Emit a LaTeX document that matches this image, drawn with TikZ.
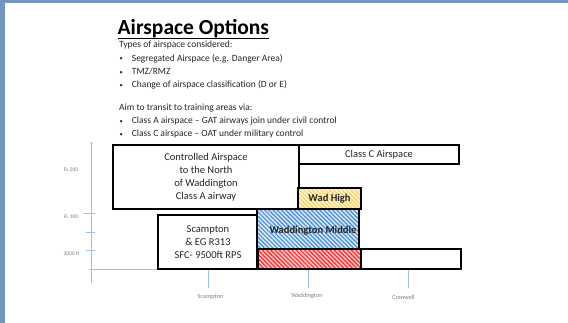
\documentclass[tikz,border=0pt]{standalone}
\usepackage{fontspec}
\setmainfont{Carlito}
\usetikzlibrary{patterns.meta,arrows.meta}

\definecolor{frameblue}{HTML}{7396BF}
\definecolor{axisblue}{HTML}{9DC1E6}
\definecolor{ticktext}{HTML}{808080}
\definecolor{bodytext}{HTML}{262626}
\definecolor{redline}{HTML}{FF2B2B}
\definecolor{redbg}{HTML}{FFC4C4}
\definecolor{blueline}{HTML}{4A8FD6}
\definecolor{bluebg}{HTML}{D6E7F8}
\definecolor{yelline}{HTML}{FFD25C}
\definecolor{yelbg}{HTML}{FFF5D6}

\tikzset{
  body/.style={anchor=base west, inner sep=0pt, text=bodytext, font=\fontsize{9.5}{12}\selectfont},
  zone/.style={draw=black, line width=1.1pt, inner sep=0pt, outer sep=0pt,
    align=center, text=bodytext, font=\fontsize{10.5}{13}\selectfont},
  hatched/.style 2 args={preaction={fill=#2},
    pattern={Lines[angle=-45,distance=3pt,line width=1.2pt]}, pattern color=#1},
  axis/.style={draw=axisblue, line width=0.9pt},
  ticklabel/.style={inner sep=0pt, text=ticktext, font=\fontsize{5.5}{6}\selectfont}
}
\newcommand{\bul}{\makebox[13.2pt][l]{\hspace*{1pt}\raisebox{0.8pt}{\fontsize{6.5}{7}\selectfont\textbullet}}}

\begin{document}
\begin{tikzpicture}[x=1pt,y=-1pt]
\useasboundingbox (0,0) rectangle (568,323);
\fill[white] (0,0) rectangle (568,323);
\fill[frameblue] (0,0) rectangle (5,323);
\fill[frameblue] (0,0) rectangle (568,3);

% title and text
\node [anchor=base west, inner sep=0pt, font=\fontsize{21.5}{24}\selectfont\bfseries] (title) at (117.5,35) {Airspace Options};
\draw [line width=1.4pt] ([yshift=-3.6pt]title.base west) -- ([yshift=-3.6pt]title.base east);

\node [body] (types) at (119,48) {Types of airspace considered:};
\node [body] (segr) at (118.5,61.5) {\bul Segregated Airspace (e.g. Danger Area)};
\node [body] (tmz) at (118.5,75) {\bul TMZ/RMZ};
\node [body] (chg) at (118.5,88) {\bul Change of airspace classification (D or E)};
\node [body] (aim) at (119,111) {Aim to transit to training areas via:};
\node [body] (clsa) at (118.5,124) {\bul Class A airspace -- GAT airways join under civil control};
\node [body] (clsc) at (118.5,137) {\bul Class C airspace -- OAT under military control};

% axes
\coordinate (ytop) at (91.5,142);
\coordinate (ybot) at (91.5,283);
\coordinate (xleft) at (89,269);
\coordinate (xright) at (443,269);
\draw [axis, {Circle[length=2pt]}-] (ytop) -- (ybot);
\draw [axis] (xleft) -- (xright);

\foreach \ty/\tx in {213/84, 232/86, 250.5/86}
  \draw [axis] (\tx,\ty) -- (95,\ty);
\foreach \tx in {208.5, 308, 408}
  \draw [axis] (\tx,269) -- (\tx,288);

\node [ticklabel] (fl200) at (71,170) {FL 200};
\node [ticklabel] (fl100) at (71,217) {FL 100};
\node [ticklabel] (ft3000) at (71.5,254) {3000 ft};
\node [ticklabel, font=\fontsize{6.3}{7}\selectfont] (scam) at (210.5,296.5) {Scampton};
\node [ticklabel, font=\fontsize{6.3}{7}\selectfont] (wadd) at (307,296) {Waddington};
\node [ticklabel, font=\fontsize{6.3}{7}\selectfont] (cran) at (403.5,297) {Cranwell};

% airspace blocks
\node [zone, minimum width=186pt, minimum height=64pt] (cas) at (206,177)
  {Controlled Airspace\\to the North\\of Waddington\\Class A airway};
\node [zone, minimum width=160pt, minimum height=19pt] (classc) at (379,154.5) {Class C Airspace};
\node [zone, hatched={redline}{redbg}, minimum width=104pt, minimum height=20pt] (waddlow) at (309,259) {};
\node [zone, minimum width=100pt, minimum height=20pt] (cranlow) at (411,259) {};
\node [zone, minimum width=100pt, minimum height=54pt] (scamp) at (208,242)
  {Scampton\\\& EG R313\\SFC- 9500ft RPS};
\node [zone, hatched={blueline}{bluebg}, minimum width=102pt, minimum height=40pt] (waddmid) at (308,229) {};
\node [text=bodytext, font=\fontsize{10.5}{13}\selectfont\bfseries, inner sep=0pt] (waddmidlbl) at (313,230.5) {Waddington Middle};
\node [zone, hatched={yelline}{yelbg}, minimum width=63pt, minimum height=21pt, font=\fontsize{10.5}{13}\selectfont\bfseries] (waddhigh) at (329.5,198.5) {Wad High};
\end{tikzpicture}
\end{document}
